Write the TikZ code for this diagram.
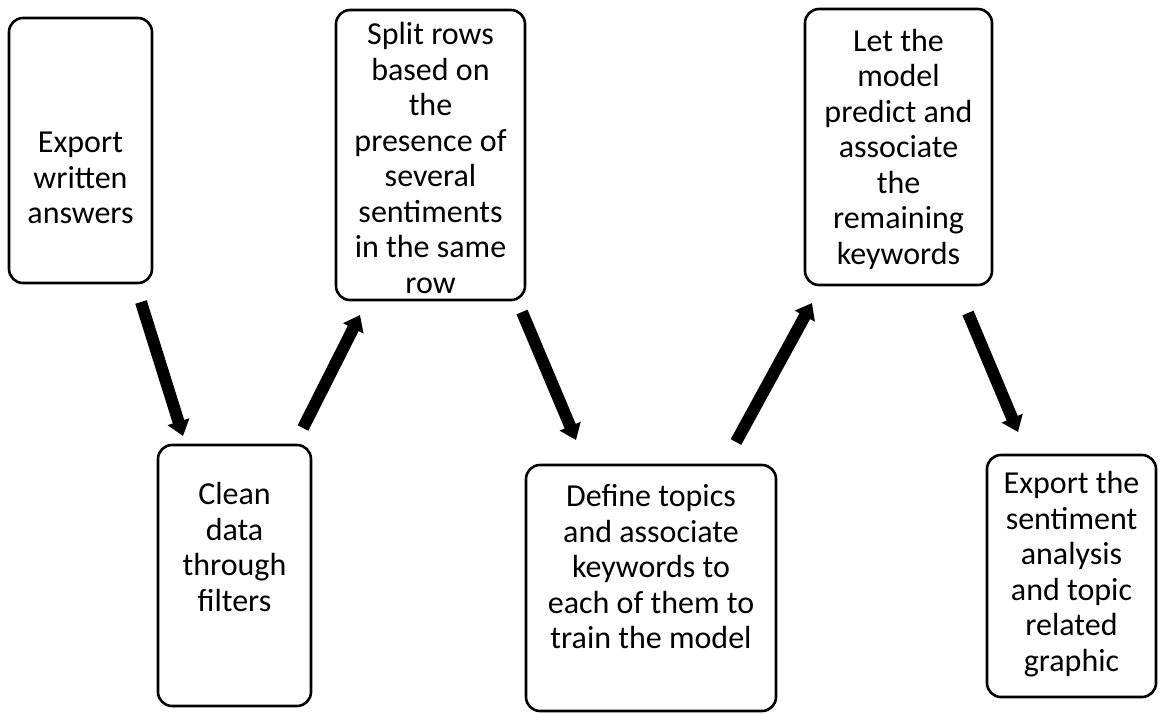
\documentclass[tikz,border=0pt]{standalone}
\usepackage{fontspec}
\setmainfont{Carlito}
\usetikzlibrary{arrows.meta}
\begin{document}
\begin{tikzpicture}[x=1pt,y=-1pt,
  stepbox/.style={draw=black, line width=2.6pt, rounded corners=14pt, inner sep=0pt},
  steptext/.style={align=center, inner sep=0pt, font=\fontsize{32}{35.5}\selectfont},
  flow/.style={line width=12pt, -{Triangle[length=15pt,width=22pt]}}]
\useasboundingbox (0,0) rectangle (1165,713);

% process steps
\node[stepbox, minimum width=143pt, minimum height=265pt] (export) at (80.5,150.5) {};
\node[steptext] (exportText) at (80.5,178) {Export\\written\\answers};

\node[stepbox, minimum width=153pt, minimum height=261pt] (clean) at (234.5,575.5) {};
\node[steptext] (cleanText) at (234.5,547) {Clean\\data\\through\\filters};

\node[stepbox, minimum width=189pt, minimum height=290pt] (split) at (430.5,155) {};
\node[steptext] (splitText) at (430.5,158) {Split rows\\based on\\the\\presence of\\several\\sentiments\\in the same\\row};

\node[stepbox, minimum width=250pt, minimum height=246pt] (define) at (651,588) {};
\node[steptext] (defineText) at (651,567) {Define topics\\and associate\\keywords to\\each of them to\\train the model};

\node[stepbox, minimum width=187pt, minimum height=276pt] (predict) at (898.5,147) {};
\node[steptext] (predictText) at (898.5,149) {Let the\\model\\predict and\\associate\\the\\remaining\\keywords};

\node[stepbox, minimum width=169pt, minimum height=242pt] (result) at (1071.5,576) {};
\node[steptext] (resultText) at (1071.5,574) {Export the\\sentiment\\analysis\\and topic\\related\\graphic};

% free-standing arrow ends between the steps
\coordinate (a1s) at (141,302); \coordinate (a1e) at (183,436);
\coordinate (a2s) at (303,428); \coordinate (a2e) at (360,315);
\coordinate (a3s) at (522,312); \coordinate (a3e) at (576,440);
\coordinate (a4s) at (736,442); \coordinate (a4e) at (812,303);
\coordinate (a5s) at (968,313); \coordinate (a5e) at (1018,432);

\draw[flow] (a1s) -- (a1e);
\draw[flow] (a2s) -- (a2e);
\draw[flow] (a3s) -- (a3e);
\draw[flow] (a4s) -- (a4e);
\draw[flow] (a5s) -- (a5e);
\end{tikzpicture}
\end{document}
